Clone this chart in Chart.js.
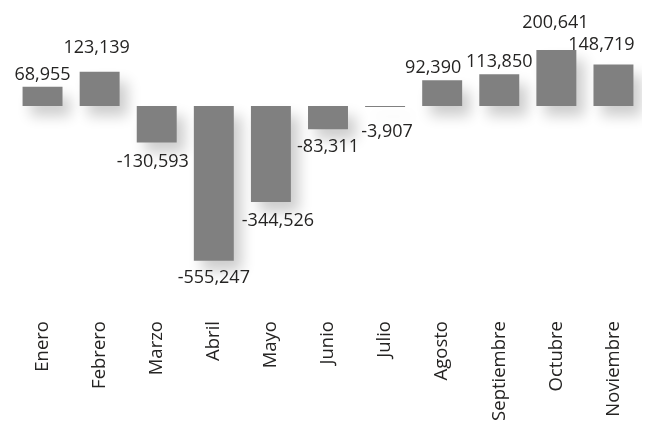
<!DOCTYPE html>
<html lang="es">
<head>
    <meta charset="UTF-8">
    <title>Ventas por mes</title>
    <script src="https://cdn.jsdelivr.net/npm/chart.js"></script>
    <style>
        html, body { margin: 0; padding: 0; background: #fff; overflow: hidden; }
        #chartContainer { width: 648px; height: 426px; }
    </style>
</head>
<body>
    <div id="chartContainer">
        <canvas id="barChart" width="648" height="426"></canvas>
    </div>

    <script>
        // datos
        const meses = ['Enero', 'Febrero', 'Marzo', 'Abril', 'Mayo', 'Junio', 'Julio',
            'Agosto', 'Septiembre', 'Octubre', 'Noviembre'];
        const valores = [68955, 123139, -130593, -555247, -344526, -83311, -3907,
            92390, 113850, 200641, 148719];

        // small nudges so labels sit like the original
        const labelDx = [0, -3, -4, 0, 7, 0, 2, -9, 0, -1, -12];
        const labelDy = [0, -12, 1, -1, 1, 0, 7, 0, 0, -15, -8];

        const fontFamily = "'Open Sans', sans-serif";
        const textColor = '#252423';

        const shadowPlugin = {
            id: 'barShadow',
            beforeDatasetsDraw(chart) {
                const ctx = chart.ctx;
                ctx.save();
                ctx.shadowColor = 'rgba(0, 0, 0, 0.2)';
                ctx.shadowBlur = 14;
                ctx.shadowOffsetX = 8;
                ctx.shadowOffsetY = 10;
            },
            afterDatasetsDraw(chart) {
                chart.ctx.restore();
            }
        };

        const labelPlugin = {
            id: 'valueLabels',
            afterDatasetsDraw(chart) {
                const ctx = chart.ctx;
                const meta = chart.getDatasetMeta(0);
                ctx.save();
                ctx.font = '18px ' + fontFamily;
                ctx.fillStyle = textColor;
                ctx.textAlign = 'center';
                ctx.textBaseline = 'middle';
                meta.data.forEach(function (bar, i) {
                    const v = valores[i];
                    const txt = v.toLocaleString('en-US');
                    let y = v >= 0 ? bar.y - 12 : bar.y + 18;
                    ctx.fillText(txt, bar.x + labelDx[i], y + labelDy[i]);
                });
                ctx.restore();
            }
        };

        const ctx = document.getElementById('barChart').getContext('2d');
        new Chart(ctx, {
            type: 'bar',
            data: {
                labels: meses,
                datasets: [{
                    data: valores,
                    backgroundColor: '#808080',
                    borderWidth: 0,
                    categoryPercentage: 1,
                    barPercentage: 0.7
                }]
            },
            options: {
                responsive: false,
                maintainAspectRatio: false,
                animation: false,
                devicePixelRatio: 1,
                layout: { padding: { left: 14, right: 6, top: 10, bottom: 0 } },
                plugins: {
                    legend: { display: false },
                    tooltip: { enabled: false }
                },
                scales: {
                    x: {
                        grid: { display: false, drawTicks: false },
                        border: { display: false },
                        ticks: {
                            autoSkip: false,
                            minRotation: 90,
                            maxRotation: 90,
                            padding: 6,
                            color: textColor,
                            font: { family: fontFamily, size: 18.5 }
                        },
                        afterFit(scale) { scale.height = 111; }
                    },
                    y: {
                        display: false,
                        min: -749700,
                        max: 344350
                    }
                }
            },
            plugins: [shadowPlugin, labelPlugin]
        });
    </script>
</body>
</html>
